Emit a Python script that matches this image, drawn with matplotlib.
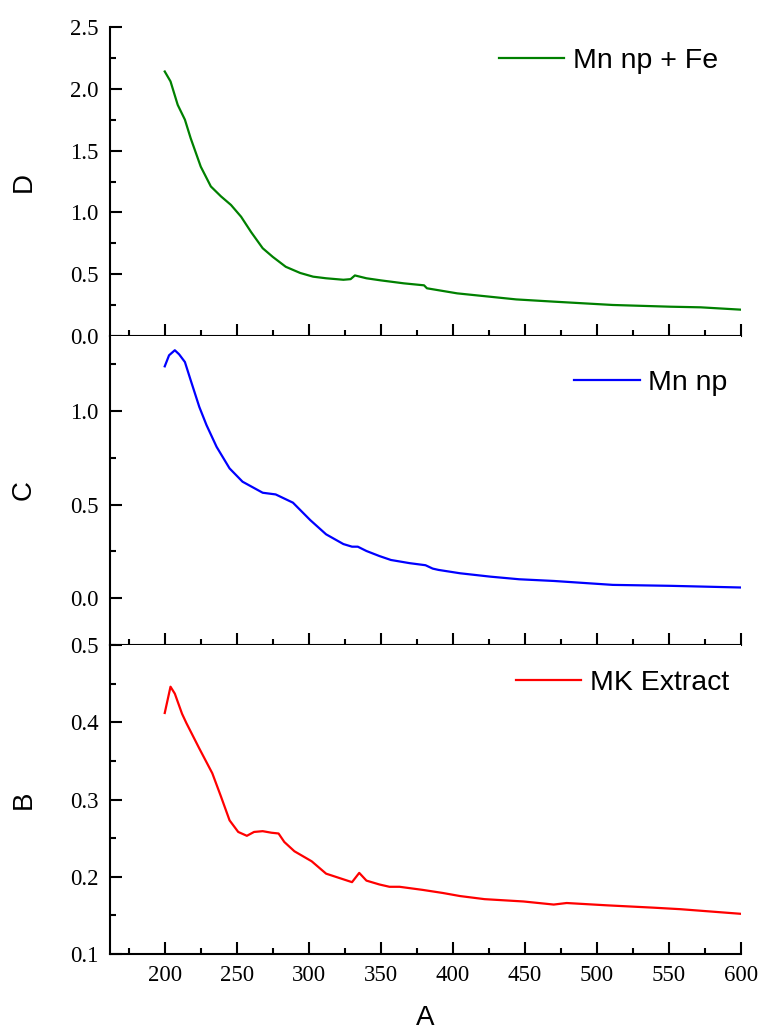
import matplotlib
matplotlib.use("Agg")
import matplotlib.pyplot as plt
from matplotlib.ticker import MultipleLocator, FormatStrFormatter

# ---- data ----
x_fe = [200, 204, 209, 214, 218, 225, 232, 239, 246, 253, 260, 268, 275, 284, 294,
        303, 312, 324, 329, 332, 340, 350, 366, 380, 382, 403, 444, 470, 511, 551, 572, 600]
y_fe = [2.14, 2.06, 1.87, 1.75, 1.60, 1.37, 1.21, 1.13, 1.06, 0.965, 0.84, 0.71, 0.64, 0.56, 0.51,
        0.48, 0.467, 0.455, 0.46, 0.49, 0.467, 0.45, 0.426, 0.41, 0.386, 0.345, 0.296, 0.278, 0.251,
        0.237, 0.232, 0.213]

x_mn = [200, 203, 207, 210, 214, 218, 224, 229, 236, 245, 254, 268, 277, 289, 301, 312, 324, 330,
        334, 340, 349, 357, 370, 381, 386, 390, 405, 426, 446, 470, 511, 551, 600]
y_mn = [1.238, 1.297, 1.324, 1.302, 1.261, 1.164, 1.021, 0.924, 0.808, 0.693, 0.622, 0.563, 0.554,
        0.51, 0.417, 0.341, 0.289, 0.275, 0.275, 0.252, 0.225, 0.204, 0.187, 0.176, 0.158, 0.151,
        0.133, 0.115, 0.101, 0.092, 0.071, 0.066, 0.057]

x_mk = [200, 204, 207, 212, 215, 224, 233, 239, 245, 251, 257, 262, 268, 274, 279, 283, 290, 302,
        312, 330, 335, 340, 349, 356, 363, 379, 393, 405, 422, 449, 470, 479, 507, 539, 558, 600]
y_mk = [0.412, 0.446, 0.437, 0.411, 0.399, 0.366, 0.334, 0.304, 0.273, 0.258, 0.253, 0.258, 0.259,
        0.257, 0.256, 0.245, 0.233, 0.22, 0.204, 0.193, 0.205, 0.195, 0.19, 0.187, 0.187, 0.183,
        0.179, 0.175, 0.171, 0.168, 0.164, 0.166, 0.163, 0.16, 0.158, 0.152]

labels = ["Mn np + Fe", "Mn np", "MK Extract"]
panel_names = ["D", "C", "B"]
x_title = "A"

serif = "Liberation Serif"
sans = "Liberation Sans"
plt.rcParams["font.family"] = [serif, "DejaVu Serif"]
plt.rcParams["xtick.labelsize"] = 16.5
plt.rcParams["ytick.labelsize"] = 16.5

fig = plt.figure(figsize=(7.6, 10.32), dpi=100)
L, R = 110 / 760, 741 / 760
W = R - L
tops = [27, 336, 645]
h = 309
axes = []
for t in tops:
    ax = fig.add_axes([L, 1 - (t + h) / 1032, W, h / 1032])
    axes.append(ax)

series = [(x_fe, y_fe, "#008000"), (x_mn, y_mn, "#0000FF"), (x_mk, y_mk, "#FF0000")]
ylims = [(0, 2.5), (-0.25, 1.4), (0.1, 0.5)]
ymaj = [0.5, 0.5, 0.1]
ymin = [0.25, 0.25, 0.05]
leg_anchor = [(0.9635, 0.89), (0.979, 0.848), (0.981, 0.877)]

for i, ax in enumerate(axes):
    xs, ys, c = series[i]
    ax.plot(xs, ys, color=c, lw=1.6, label=labels[i])
    ax.set_xlim(162, 600)
    ax.set_ylim(*ylims[i])
    for s in ["top", "right"]:
        ax.spines[s].set_visible(False)
    for s in ["left", "bottom"]:
        ax.spines[s].set_linewidth(1.5)
    ax.xaxis.set_major_locator(MultipleLocator(50))
    ax.xaxis.set_minor_locator(MultipleLocator(25))
    ax.yaxis.set_major_locator(MultipleLocator(ymaj[i]))
    ax.yaxis.set_minor_locator(MultipleLocator(ymin[i]))
    ax.yaxis.set_major_formatter(FormatStrFormatter("%.1f"))
    ax.tick_params(which="major", direction="in", length=8.5, width=1.5, pad=8)
    ax.tick_params(which="minor", direction="in", length=4, width=1.5)
    if i < 2:
        ax.tick_params(axis="x", labelbottom=False)
    if i == 1:
        ax.set_yticks([0.0, 0.5, 1.0])
    ax.set_ylabel(panel_names[i], fontfamily=sans, fontsize=20)
    ax.yaxis.set_label_coords(-0.116, 0.5)
    ax.legend(loc="center right", bbox_to_anchor=leg_anchor[i], frameon=False,
              prop={"family": sans, "size": 20.5}, handlelength=2.3, handletextpad=0.3,
              borderaxespad=0, borderpad=0)

axes[2].set_xlabel(x_title, fontfamily=sans, fontsize=20)
axes[2].xaxis.set_label_coords(0.5, -0.165)

fig.savefig("out.png", dpi=100)
